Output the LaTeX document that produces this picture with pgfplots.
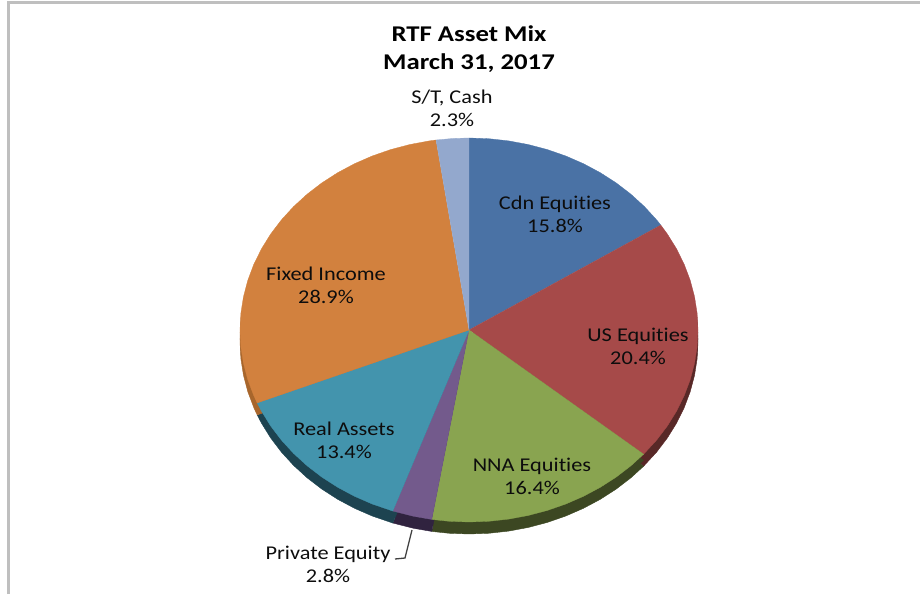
\documentclass[border=0pt]{standalone}
\usepackage{fontspec}
\setmainfont{Carlito}[Ligatures=NoCommon]
\usepackage{pgfplots}
\usepackage{pgfplotstable}
\pgfplotsset{compat=1.18}
\definecolor{cCdn}{HTML}{4A72A5}
\definecolor{cUS}{HTML}{A64A49}
\definecolor{cNNA}{HTML}{89A450}
\definecolor{cPE}{HTML}{735A8C}
\definecolor{cRA}{HTML}{4394AD}
\definecolor{cFI}{HTML}{D2813E}
\definecolor{cST}{HTML}{93A8CD}
\definecolor{sUS}{HTML}{582827}
\definecolor{sNNA}{HTML}{3C4722}
\definecolor{sPE}{HTML}{30233F}
\definecolor{sRA}{HTML}{1D4350}
\definecolor{sFI}{HTML}{A8662C}
\pgfplotstableread[row sep=\\]{a r\\ 0 0\\ 90 1\\ 85 1\\ 80 1\\ 75 1\\ 70 1\\ 65 1\\ 60 1\\ 55 1\\ 50 1\\ 45 1\\ 40 1\\ 35 1\\ 33.12 1\\}\tCdn
\pgfplotstableread[row sep=\\]{a r\\ 0 0\\ 33.12 1\\ 30 1\\ 25 1\\ 20 1\\ 15 1\\ 10 1\\ 5 1\\ 0 1\\ -5 1\\ -10 1\\ -15 1\\ -20 1\\ -25 1\\ -30 1\\ -35 1\\ -40.32 1\\}\tUS
\pgfplotstableread[row sep=\\]{a r\\ 0 0\\ -40.32 1\\ -45 1\\ -50 1\\ -55 1\\ -60 1\\ -65 1\\ -70 1\\ -75 1\\ -80 1\\ -85 1\\ -90 1\\ -95 1\\ -99.36 1\\}\tNNA
\pgfplotstableread[row sep=\\]{a r\\ 0 0\\ -99.36 1\\ -104 1\\ -109.44 1\\}\tPE
\pgfplotstableread[row sep=\\]{a r\\ 0 0\\ -109.44 1\\ -115 1\\ -120 1\\ -125 1\\ -130 1\\ -135 1\\ -140 1\\ -145 1\\ -150 1\\ -155 1\\ -157.68 1\\}\tRA
\pgfplotstableread[row sep=\\]{a r\\ 0 0\\ -157.68 1\\ -160 1\\ -165 1\\ -170 1\\ -175 1\\ -180 1\\ -185 1\\ -190 1\\ -195 1\\ -200 1\\ -205 1\\ -210 1\\ -215 1\\ -220 1\\ -225 1\\ -230 1\\ -235 1\\ -240 1\\ -245 1\\ -250 1\\ -255 1\\ -260 1\\ -261.72 1\\}\tFI
\pgfplotstableread[row sep=\\]{a r\\ 0 0\\ -261.72 1\\ -266 1\\ -270 1\\}\tST
\pgfplotsset{
  side/.style={fill=#1,draw=#1,line width=0.4pt,data cs=polar,forget plot},
  top/.style={fill=#1,draw=#1,line width=0.3pt,data cs=polar,forget plot}}
\begin{document}
\begin{tikzpicture}[x=1pt,y=1pt]
\useasboundingbox (0,0) rectangle (920,594);
\begin{axis}[at={(0,0)},anchor=south west,scale only axis,width=920pt,height=594pt,
  hide axis,clip=false,
  xmin=-2.04803,xmax=1.96943,ymin=-1.375,ymax=1.71875]
\addplot[side=sUS,yshift=-12pt] table[x=a,y=r] {\tUS};
\addplot[side=sUS,yshift=-6pt] table[x=a,y=r] {\tUS};
\addplot[side=sNNA,yshift=-12pt] table[x=a,y=r] {\tNNA};
\addplot[side=sNNA,yshift=-6pt] table[x=a,y=r] {\tNNA};
\addplot[side=sPE,yshift=-12pt] table[x=a,y=r] {\tPE};
\addplot[side=sPE,yshift=-6pt] table[x=a,y=r] {\tPE};
\addplot[side=sRA,yshift=-12pt] table[x=a,y=r] {\tRA};
\addplot[side=sRA,yshift=-6pt] table[x=a,y=r] {\tRA};
\addplot[side=sFI,yshift=-12pt] table[x=a,y=r] {\tFI};
\addplot[side=sFI,yshift=-6pt] table[x=a,y=r] {\tFI};
\addplot[top=cCdn] table[x=a,y=r] {\tCdn};
\addplot[top=cUS] table[x=a,y=r] {\tUS};
\addplot[top=cNNA] table[x=a,y=r] {\tNNA};
\addplot[top=cPE] table[x=a,y=r] {\tPE};
\addplot[top=cRA] table[x=a,y=r] {\tRA};
\addplot[top=cFI] table[x=a,y=r] {\tFI};
\addplot[top=cST] table[x=a,y=r] {\tST};
\end{axis}
\begin{axis}[at={(0,0)},anchor=south west,scale only axis,width=920pt,height=594pt,
  hide axis,clip=false,xmin=0,xmax=920,ymin=0,ymax=594,y dir=reverse]
\addplot[color=black!25,line width=3pt,forget plot] coordinates {(8.5,594)(8.5,3)(920,3)};
\addplot[color=black!75,line width=1.3pt,forget plot] coordinates {(412,530)(405,558)(395,559)};
\tikzset{lab/.style={font=\fontsize{19.5}{23.5}\selectfont,align=center,text=black!95,inner sep=0pt,xscale=1.145,transform shape}}
\node[font=\fontsize{22.5}{28}\selectfont\bfseries,align=center,text=black,inner sep=0pt,xscale=1.19,transform shape] at (axis cs:469,49.5) {RTF Asset Mix\\March 31, 2017};
\node[lab] at (axis cs:452,108.5) {S/T, Cash\\2.3\%};
\node[lab] at (axis cs:555,214.5) {Cdn Equities\\15.8\%};
\node[lab] at (axis cs:638,346.5) {US Equities\\20.4\%};
\node[lab] at (axis cs:532,476.5) {NNA Equities\\16.4\%};
\node[lab] at (axis cs:328,564.5) {Private Equity\\2.8\%};
\node[lab] at (axis cs:344,440.5) {Real Assets\\13.4\%};
\node[lab] at (axis cs:326,285.5) {Fixed Income\\28.9\%};
\end{axis}
\end{tikzpicture}
\end{document}
